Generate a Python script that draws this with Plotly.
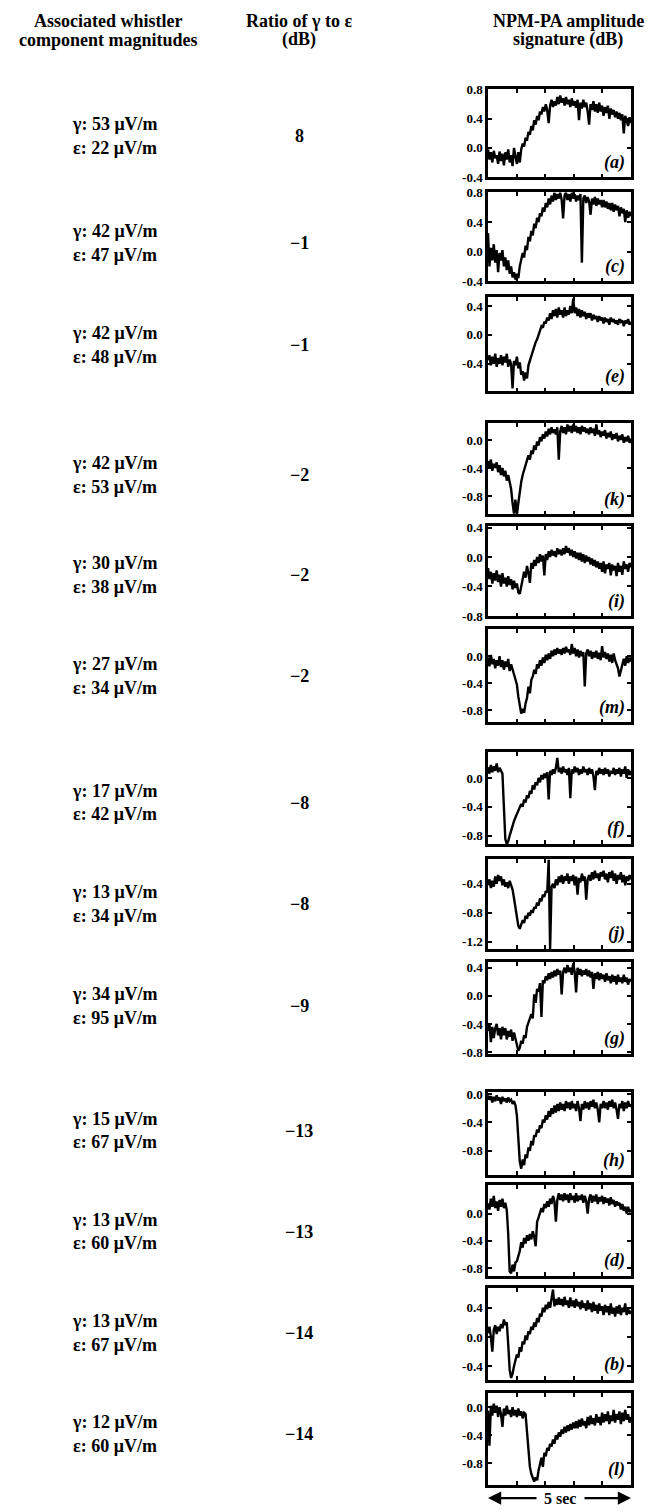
import numpy as np
import plotly.graph_objects as go

W, H = 648, 1512

# ---- table data -------------------------------------------------------------
panel_ids = ["a", "c", "e", "k", "i", "m", "f", "j", "g", "h", "d", "b", "l"]
gamma_uv = [53, 42, 42, 42, 30, 27, 17, 13, 34, 15, 13, 13, 12]
eps_uv = [22, 47, 48, 53, 38, 34, 42, 34, 95, 67, 60, 67, 60]
ratio_db = [8, -1, -1, -2, -2, -2, -8, -8, -9, -13, -13, -14, -14]

header_left = ["Associated whistler", "component magnitudes"]
header_mid = ["Ratio of \u03b3 to \u03b5", "(dB)"]
header_right = ["NPM-PA amplitude", "signature (dB)"]

# ---- NPM-PA amplitude signatures (dB), 100 samples over a 5 s record --------
sig_a = [-0.02, -0.16, -0.06, -0.2, -0.04, -0.14, -0.1, -0.22, -0.05, -0.18,
         -0.08, -0.24, -0.06, -0.16, -0.02, -0.2, -0.1, -0.25, 0.0, -0.12,
         -0.22, -0.06, -0.2, -0.02, 0.06, 0.02, 0.14, 0.1, 0.22, 0.18,
         0.3, 0.24, 0.38, 0.32, 0.44, 0.38, 0.5, 0.46, 0.56, 0.5,
         0.6, 0.52, 0.34, 0.58, 0.66, 0.56, 0.64, 0.58, 0.7, 0.6,
         0.72, 0.62, 0.68, 0.58, 0.7, 0.6, 0.66, 0.56, 0.68, 0.58,
         0.64, 0.55, 0.66, 0.38, 0.62, 0.54, 0.66, 0.56, 0.62, 0.5,
         0.32, 0.6, 0.52, 0.64, 0.5, 0.6, 0.48, 0.62, 0.5, 0.58,
         0.44, 0.56, 0.48, 0.58, 0.4, 0.54, 0.46, 0.52, 0.42, 0.5,
         0.4, 0.48, 0.38, 0.46, 0.2, 0.44, 0.36, 0.3, 0.42, 0.34]
sig_c = [0.25, -0.2, 0.05, -0.12, 0.1, -0.15, 0.02, -0.28, -0.02, -0.12,
         0.02, -0.2, -0.08, -0.25, -0.12, -0.3, -0.2, -0.35, -0.28, -0.38,
         -0.3, -0.36, -0.2, -0.12, -0.02, -0.08, 0.08, 0.02, 0.2, 0.14,
         0.28, 0.22, 0.38, 0.32, 0.46, 0.4, 0.52, 0.48, 0.6, 0.54,
         0.66, 0.6, 0.72, 0.64, 0.76, 0.68, 0.8, 0.7, 0.78, 0.72,
         0.8, 0.7, 0.45, 0.76, 0.8, 0.7, 0.78, 0.68, 0.8, 0.72,
         0.78, 0.68, 0.76, 0.7, 0.78, -0.15, 0.72, 0.76, 0.66, 0.74,
         0.68, 0.5, 0.72, 0.64, 0.74, 0.62, 0.72, 0.64, 0.7, 0.6,
         0.7, 0.6, 0.68, 0.58, 0.66, 0.56, 0.66, 0.54, 0.64, 0.56,
         0.62, 0.48, 0.6, 0.52, 0.58, 0.4, 0.56, 0.46, 0.54, 0.48]
sig_e = [-0.35, -0.28, -0.42, -0.3, -0.4, -0.26, -0.44, -0.32, -0.4, -0.28,
         -0.42, -0.3, -0.38, -0.26, -0.44, -0.34, -0.4, -0.74, -0.36, -0.42,
         -0.3, -0.46, -0.38, -0.55, -0.5, -0.63, -0.52, -0.6, -0.42, -0.35,
         -0.3, -0.22, -0.16, -0.1, -0.06, 0.02, 0.06, 0.12, 0.1, 0.18,
         0.16, 0.24, 0.2, 0.3, 0.22, 0.34, 0.26, 0.36, 0.24, 0.38,
         0.28, 0.34, 0.24, 0.38, 0.26, 0.34, 0.28, 0.4, 0.3, 0.5,
         0.3, 0.38, 0.26, 0.36, 0.24, 0.34, 0.26, 0.32, 0.22, 0.3,
         0.24, 0.3, 0.2, 0.28, 0.22, 0.26, 0.18, 0.26, 0.2, 0.24,
         0.16, 0.24, 0.18, 0.22, 0.14, 0.24, 0.18, 0.22, 0.16, 0.2,
         0.14, 0.22, 0.18, 0.2, 0.12, 0.2, 0.16, 0.22, 0.14, 0.18]
sig_k = [-0.3, -0.4, -0.28, -0.44, -0.34, -0.4, -0.32, -0.46, -0.36, -0.5,
         -0.4, -0.52, -0.44, -0.58, -0.5, -0.62, -0.7, -0.9, -1.05, -0.85,
         -1.07, -0.9, -0.7, -0.6, -0.5, -0.42, -0.35, -0.3, -0.22, -0.28,
         -0.15, -0.2, -0.08, -0.14, -0.02, -0.08, 0.04, -0.02, 0.08, 0.02,
         0.12, 0.05, 0.16, 0.08, 0.18, 0.1, 0.15, 0.08, 0.18, -0.28,
         0.12, 0.2, 0.1, 0.18, 0.08, 0.22, 0.12, 0.2, 0.1, 0.22,
         0.12, 0.2, 0.1, 0.18, 0.08, 0.2, 0.12, 0.18, 0.1, 0.16,
         0.08, 0.18, 0.1, 0.16, 0.06, 0.22, 0.08, 0.14, 0.04, 0.12,
         0.06, 0.14, 0.02, 0.1, 0.04, 0.12, 0.0, 0.08, 0.02, 0.1,
         -0.02, 0.06, 0.0, 0.08, -0.04, 0.04, -0.02, 0.06, -0.04, 0.02]
sig_i = [-0.15, -0.3, -0.2, -0.36, -0.22, -0.32, -0.18, -0.34, -0.24, -0.4,
         -0.22, -0.36, -0.28, -0.4, -0.26, -0.38, -0.3, -0.44, -0.32, -0.42,
         -0.36, -0.48, -0.5, -0.38, -0.3, -0.2, -0.28, -0.12, -0.22, -0.35,
         -0.08, -0.16, -0.04, -0.12, 0.0, -0.08, 0.04, -0.06, 0.02, -0.25,
         0.04, -0.04, 0.08, 0.0, 0.1, 0.02, 0.08, 0.0, 0.12, 0.04,
         0.1, 0.02, 0.12, 0.04, 0.15, 0.06, 0.12, 0.02, 0.1, 0.0,
         0.08, -0.02, 0.06, -0.04, 0.06, -0.06, 0.04, -0.08, 0.02, -0.06,
         0.0, -0.1, -0.02, -0.12, -0.04, -0.14, -0.06, -0.16, -0.08, -0.2,
         -0.06, -0.22, -0.1, -0.16, -0.08, -0.25, -0.1, -0.18, -0.12, -0.26,
         -0.08, -0.2, -0.12, -0.24, -0.06, -0.16, -0.1, -0.2, -0.08, -0.14]
sig_m = [-0.02, -0.15, 0.02, -0.12, -0.04, -0.18, -0.06, -0.14, 0.0, -0.16,
         -0.06, -0.2, -0.08, -0.16, -0.04, -0.22, -0.12, -0.2, -0.26, -0.36,
         -0.42, -0.6, -0.75, -0.85, -0.78, -0.84, -0.7, -0.62, -0.45, -0.55,
         -0.35, -0.3, -0.2, -0.26, -0.12, -0.18, -0.06, -0.14, -0.02, -0.1,
         0.02, -0.06, 0.04, -0.04, 0.08, 0.0, 0.1, 0.02, 0.12, 0.04,
         0.1, 0.02, 0.12, 0.04, 0.14, 0.06, 0.1, 0.02, 0.18, 0.04,
         0.12, 0.0, 0.1, -0.02, 0.08, 0.0, 0.06, -0.45, 0.04, 0.1,
         0.0, 0.08, -0.04, 0.06, -0.02, 0.08, -0.04, 0.05, -0.06, 0.15,
         -0.02, 0.06, -0.04, 0.04, -0.08, 0.02, -0.1, 0.04, -0.06, -0.12,
         -0.18, -0.3, -0.22, -0.12, -0.04, -0.14, 0.0, -0.1, -0.02, -0.08]
sig_f = [0.15, 0.06, 0.18, 0.08, 0.16, 0.1, 0.2, 0.08, 0.14, 0.1,
         0.06, -0.4, -0.85, -0.92, -0.88, -0.8, -0.72, -0.66, -0.6, -0.55,
         -0.5, -0.46, -0.42, -0.36, -0.4, -0.3, -0.34, -0.24, -0.28, -0.18,
         -0.22, -0.1, -0.16, -0.06, -0.1, 0.0, -0.06, 0.04, -0.02, 0.06,
         0.0, 0.08, -0.3, 0.1, 0.04, 0.12, 0.06, 0.14, 0.28, 0.08,
         0.14, 0.06, 0.16, 0.08, 0.12, 0.04, 0.14, -0.28, 0.12, 0.06,
         0.16, 0.08, 0.14, 0.04, 0.12, 0.06, 0.16, 0.08, 0.12, 0.04,
         0.14, 0.06, 0.12, 0.02, -0.17, 0.1, 0.04, 0.14, 0.06, 0.12,
         0.04, 0.14, 0.06, 0.12, 0.02, 0.1, 0.06, 0.14, 0.04, 0.12,
         0.06, 0.14, 0.02, 0.12, 0.06, 0.16, 0.0, 0.12, 0.04, 0.1]
sig_j = [-0.42, -0.34, -0.46, -0.36, -0.44, -0.3, -0.4, -0.28, -0.36, -0.3,
         -0.42, -0.34, -0.44, -0.38, -0.46, -0.36, -0.42, -0.48, -0.6, -0.75,
         -0.88, -0.98, -1.02, -0.95, -0.9, -0.94, -0.84, -0.88, -0.8, -0.84,
         -0.76, -0.8, -0.72, -0.74, -0.66, -0.7, -0.6, -0.64, -0.55, -0.58,
         -0.5, -0.52, -0.07, -1.3, -0.44, -0.4, -0.46, -0.34, -0.42, -0.3,
         -0.38, -0.28, -0.4, -0.3, -0.36, -0.26, -0.4, -0.3, -0.36, -0.28,
         -0.42, -0.3, -0.55, -0.32, -0.38, -0.26, -0.36, -0.3, -0.62, -0.34,
         -0.28, -0.36, -0.24, -0.34, -0.22, -0.32, -0.26, -0.36, -0.24, -0.3,
         -0.22, -0.34, -0.26, -0.38, -0.24, -0.32, -0.22, -0.36, -0.26, -0.4,
         -0.28, -0.34, -0.24, -0.38, -0.28, -0.42, -0.3, -0.36, -0.28, -0.34]
sig_g = [-0.5, -0.4, -0.66, -0.44, -0.6, -0.46, -0.4, -0.56, -0.46, -0.62,
         -0.44, -0.56, -0.46, -0.62, -0.5, -0.58, -0.48, -0.64, -0.52, -0.62,
         -0.7, -0.78, -0.74, -0.64, -0.68, -0.56, -0.6, -0.44, -0.38, -0.3,
         -0.26, -0.32, 0.02, -0.1, 0.1, 0.06, 0.18, -0.3, 0.22, 0.18,
         0.28, 0.22, 0.32, 0.24, 0.34, 0.26, 0.36, 0.28, 0.38, 0.3,
         0.36, 0.02, 0.34, 0.4, 0.32, 0.44, 0.34, 0.4, 0.3, 0.46,
         0.34, 0.05, 0.4, 0.3, 0.38, 0.28, 0.36, 0.3, 0.38, 0.28,
         0.36, 0.26, 0.34, 0.1, 0.32, 0.24, 0.34, 0.22, 0.32, 0.24,
         0.3, 0.2, 0.32, 0.22, 0.28, 0.18, 0.3, 0.2, 0.28, 0.16,
         0.3, 0.2, 0.26, 0.18, 0.3, 0.2, 0.26, 0.16, 0.24, 0.2]
sig_h = [-0.02, -0.08, -0.03, -0.12, -0.04, -0.1, -0.02, -0.09, -0.05, -0.14,
         -0.04, -0.1, -0.06, -0.12, -0.05, -0.1, -0.08, -0.14, -0.1, -0.16,
         -0.3, -0.6, -0.95, -1.05, -0.92, -1.0, -0.85, -0.9, -0.75, -0.8,
         -0.66, -0.72, -0.58, -0.6, -0.5, -0.54, -0.44, -0.48, -0.36, -0.4,
         -0.3, -0.36, -0.24, -0.32, -0.2, -0.28, -0.16, -0.26, -0.14, -0.24,
         -0.12, -0.22, -0.14, -0.24, -0.1, -0.2, -0.12, -0.22, -0.1, -0.2,
         -0.14, -0.24, -0.1, -0.2, -0.38, -0.14, -0.22, -0.1, -0.2, -0.12,
         -0.22, -0.1, -0.18, -0.08, -0.2, -0.12, -0.22, -0.4, -0.14, -0.2,
         -0.1, -0.2, -0.12, -0.22, -0.1, -0.18, -0.08, -0.2, -0.12, -0.22,
         -0.35, -0.14, -0.2, -0.1, -0.24, -0.12, -0.2, -0.1, -0.18, -0.14]
sig_d = [0.15, 0.06, 0.22, 0.1, 0.26, 0.08, 0.18, 0.04, 0.2, 0.1,
         0.22, 0.08, 0.16, 0.05, -0.3, -0.85, -0.88, -0.75, -0.85, -0.72,
         -0.7, -0.62, -0.55, -0.42, -0.5, -0.36, -0.44, -0.32, -0.4, -0.3,
         -0.38, -0.26, -0.34, -0.48, -0.12, -0.06, 0.02, 0.08, 0.02, 0.14,
         0.08, 0.18, 0.1, 0.22, 0.14, 0.26, 0.18, -0.12, 0.2, 0.3,
         0.2, 0.28, 0.18, 0.3, 0.2, 0.28, 0.16, 0.3, 0.2, 0.26,
         0.16, 0.3, 0.18, 0.26, 0.2, 0.28, 0.16, 0.26, 0.18, 0.0,
         0.22, 0.28, 0.16, 0.26, 0.18, 0.28, 0.14, 0.24, 0.18, 0.26,
         0.14, 0.24, 0.16, 0.22, 0.12, 0.24, 0.14, 0.2, 0.1, 0.18,
         0.12, 0.16, 0.06, 0.14, 0.04, 0.1, 0.0, 0.1, 0.02, 0.06]
sig_b = [0.05, 0.14, 0.0, -0.2, 0.1, 0.16, 0.04, 0.14, 0.08, 0.18,
         0.12, 0.24, 0.16, 0.2, -0.1, -0.45, -0.56, -0.5, -0.4, -0.3,
         -0.24, -0.28, -0.14, -0.2, -0.06, -0.1, 0.02, -0.04, 0.08, 0.04,
         0.14, 0.1, 0.2, 0.14, 0.26, 0.2, 0.32, 0.28, 0.4, 0.34,
         0.44, 0.38, 0.48, 0.4, 0.5, 0.65, 0.42, 0.52, 0.44, 0.54,
         0.44, 0.52, 0.42, 0.55, 0.44, 0.5, 0.4, 0.54, 0.42, 0.5,
         0.4, 0.52, 0.42, 0.48, 0.38, 0.5, 0.4, 0.46, 0.36, 0.5,
         0.38, 0.46, 0.34, 0.48, 0.36, 0.44, 0.32, 0.46, 0.36, 0.42,
         0.3, 0.44, 0.34, 0.42, 0.3, 0.46, 0.32, 0.4, 0.28, 0.42,
         0.32, 0.44, 0.3, 0.4, 0.34, 0.46, 0.3, 0.38, 0.32, 0.36]
sig_l = [-0.05, -0.55, 0.02, -0.12, 0.05, -0.08, 0.02, -0.14, 0.0, -0.1,
         -0.28, -0.02, -0.12, 0.02, -0.1, -0.04, -0.14, 0.0, -0.12, -0.04,
         -0.14, -0.02, -0.12, -0.06, -0.16, -0.08, -0.1, -0.4, -0.7, -0.85,
         -0.95, -1.02, -1.06, -1.0, -1.04, -0.9, -0.8, -0.72, -0.85, -0.65,
         -0.7, -0.58, -0.62, -0.52, -0.56, -0.46, -0.52, -0.4, -0.46, -0.36,
         -0.42, -0.32, -0.38, -0.28, -0.36, -0.26, -0.34, -0.24, -0.32, -0.22,
         -0.3, -0.2, -0.3, -0.18, -0.28, -0.16, -0.26, -0.2, -0.3, -0.14,
         -0.26, -0.12, -0.24, -0.16, -0.26, -0.1, -0.22, -0.14, -0.26, -0.08,
         -0.22, -0.1, -0.2, -0.06, -0.24, -0.12, -0.2, -0.04, -0.22, -0.1,
         -0.18, -0.06, -0.24, -0.08, -0.2, -0.04, -0.18, -0.1, -0.22, -0.14]

signatures = {"a": sig_a, "c": sig_c, "e": sig_e, "k": sig_k, "i": sig_i, "m": sig_m, "f": sig_f,
              "j": sig_j, "g": sig_g, "h": sig_h, "d": sig_d, "b": sig_b, "l": sig_l}
record_sec = 5.0

# labelled y ticks and y ranges of each panel (dB)
ytick_vals = {"a": [0.8, 0.4, 0.0, -0.4], "c": [0.8, 0.4, 0.0, -0.4], "e": [0.4, 0.0, -0.4],
              "k": [0.0, -0.4, -0.8], "i": [0.4, 0.0, -0.4, -0.8], "m": [0.0, -0.4, -0.8],
              "f": [0.0, -0.4, -0.8], "j": [-0.4, -0.8, -1.2], "g": [0.4, 0.0, -0.4, -0.8],
              "h": [0.0, -0.4, -0.8], "d": [0.0, -0.4, -0.8], "b": [0.4, 0.0, -0.4], "l": [0.0, -0.4, -0.8]}
y_ranges = {"a": [-0.405, 0.805], "c": [-0.405, 0.805], "e": [-0.78, 0.52], "k": [-1.06, 0.24],
            "i": [-0.805, 0.42], "m": [-0.98, 0.4], "f": [-0.92, 0.36], "j": [-1.3, -0.06],
            "g": [-0.83, 0.48], "h": [-1.14, 0.03], "d": [-0.92, 0.42], "b": [-0.59, 0.67], "l": [-1.11, 0.2]}

# ---- layout geometry (pixels) -------------------------------------------------
panel_px = {"a": (83, 172), "c": (187, 277), "e": (293, 388), "k": (420, 512), "i": (524, 615),
            "m": (628, 722), "f": (752, 845), "j": (860, 951), "g": (964, 1057), "h": (1095, 1179),
            "d": (1189, 1281), "b": (1293, 1386), "l": (1399, 1492)}
row_center_px = [130, 238, 341, 472, 573, 675, 803, 905, 1008, 1134, 1236, 1338, 1440]
PX0, PX1 = 488, 631
COL_LEFT, COL_ROWS, COL_MID, COL_RIGHT = 108, 115, 299, 568

SERIF = "Liberation Serif"


def py(p):
    return 1 - p / H


def px(p):
    return p / W


fig = go.Figure()
annotations = []

for k, pid in enumerate(panel_ids):
    ys = signatures[pid]
    dt = record_sec / (len(ys) - 1)
    t = np.arange(len(ys)) * dt
    sfx = "" if k == 0 else str(k + 1)
    fig.add_trace(go.Scatter(x=t, y=ys, xaxis="x" + sfx, yaxis="y" + sfx, mode="lines",
                             line=dict(color="black", width=2.4), showlegend=False,
                             hoverinfo="skip"))
    top, bot = panel_px[pid]
    axis_common = dict(showline=True, linecolor="black", linewidth=2.5, mirror="ticks",
                       ticks="inside", ticklen=4, tickwidth=1.5, tickcolor="black",
                       showgrid=False, zeroline=False, fixedrange=True)
    fig.update_layout(**{
        "xaxis" + sfx: dict(axis_common, domain=[px(PX0), px(PX1)], anchor="y" + sfx,
                            range=[0, record_sec], tickvals=[1, 2, 3, 4], showticklabels=False),
        "yaxis" + sfx: dict(axis_common, domain=[py(bot), py(top)], anchor="x" + sfx,
                            range=y_ranges[pid], tickvals=ytick_vals[pid],
                            ticktext=[f"{v:.1f}" for v in ytick_vals[pid]],
                            tickfont=dict(family=SERIF, size=13, color="black", weight="bold"),
                            ticklabelstandoff=0),
    })
    annotations.append(dict(text=f"({pid})", xref=("x" + sfx + " domain"), yref=("y" + sfx + " domain"),
                            x=0.97, y=0.03, xanchor="right", yanchor="bottom", showarrow=False,
                            font=dict(family=SERIF, size=18, color="black", style="italic", weight="bold")))

    # table text for this row
    yc = row_center_px[k]
    annotations.append(dict(text=f"\u03b3: {gamma_uv[k]} \u03bcV/m", xref="paper", yref="paper",
                            x=px(COL_ROWS), y=py(yc - 12), xanchor="center", yanchor="middle",
                            showarrow=False, font=dict(family=SERIF, size=18, color="black", weight="bold")))
    annotations.append(dict(text=f"\u03b5: {eps_uv[k]} \u03bcV/m", xref="paper", yref="paper",
                            x=px(COL_ROWS), y=py(yc + 12), xanchor="center", yanchor="middle",
                            showarrow=False, font=dict(family=SERIF, size=18, color="black", weight="bold")))
    rtxt = str(ratio_db[k]).replace("-", "\u2212")
    annotations.append(dict(text=rtxt, xref="paper", yref="paper", x=px(COL_MID), y=py(yc),
                            xanchor="center", yanchor="middle", showarrow=False,
                            font=dict(family=SERIF, size=18, color="black", weight="bold")))

# column headers
for col_x, lines in ((COL_LEFT, header_left), (COL_MID, header_mid), (COL_RIGHT, header_right)):
    for j, line in enumerate(lines):
        annotations.append(dict(text=line, xref="paper", yref="paper", x=px(col_x), y=py(14 + 19 * j),
                                xanchor="center", yanchor="middle", showarrow=False,
                                font=dict(family=SERIF, size=18, color="black", weight="bold")))

# time scale bar under the last panel
bar_y = py(1505)
annotations.append(dict(text="5 sec", xref="paper", yref="paper", x=px(560), y=bar_y,
                        xanchor="center", yanchor="middle", showarrow=False,
                        font=dict(family=SERIF, size=16, color="black", weight="bold")))
for head, tail in ((PX0, 538), (PX1, 583)):
    annotations.append(dict(text="", xref="paper", yref="paper", x=px(head), y=bar_y,
                            ax=tail - head, ay=0,
                            showarrow=True, arrowhead=2, arrowsize=1.2, arrowwidth=2.2,
                            arrowcolor="black"))

fig.update_layout(width=W, height=H, autosize=False, margin=dict(l=0, r=0, t=0, b=0),
                  paper_bgcolor="white", plot_bgcolor="white", annotations=annotations,
                  showlegend=False)

fig.write_html("out.html")
